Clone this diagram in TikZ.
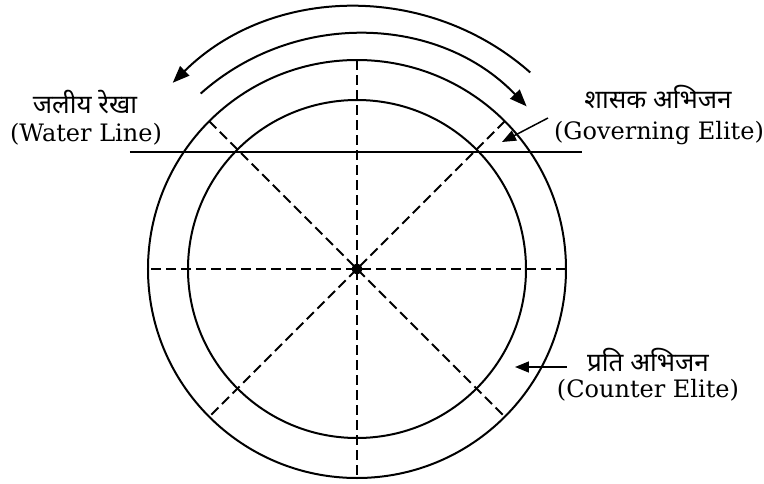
\documentclass[tikz,border=0pt]{standalone}
\usepackage{fontspec}
\setmainfont{DejaVu Serif}
\newfontfamily\hindi[Script=Devanagari]{Noto Sans}
\usetikzlibrary{arrows.meta, positioning}

\begin{document}
\begin{tikzpicture}[x=1pt, y=1pt, >={Triangle[length=17pt,width=13pt]},
        ring/.style={line width=2pt},
        spoke/.style={line width=1.8pt, dash pattern=on 10pt off 5pt},
        pointer/.style={line width=1.5pt, -{Triangle[length=14pt,width=11pt]}},
        hi/.style={font=\hindi\fontsize{26}{30}\selectfont, inner sep=0pt},
        en/.style={font=\fontsize{24}{28}\selectfont, inner sep=0pt}]
                \useasboundingbox (-357,-214) rectangle (407,269);
                \coordinate (c) at (0,0);
                \draw[ring] (c) circle (209);
                \draw[ring] (c) circle (169);
                \foreach \a in {0,45,90,135}
                    \draw[spoke] (\a:209) -- (\a+180:209);
                \fill (c) circle (5.5);

                % rotation arrows
                \draw[ring, ->] (48.6:262) arc (48.6:134.7:262);
                \draw[ring, ->] (131.7:235) arc (131.7:43.8:235);

                % water line
                \coordinate (wl1) at (-227,117);
                \coordinate (wl2) at (225,117);
                \draw[line width=1.7pt] (wl1) -- (wl2);

                \node[hi] (waterhi) at (-272,167) {जलीय रेखा};
                \node[en] (wateren) at (-271,135) {(Water Line)};

                \node[hi] (govhi) at (301,172) {शासक अभिजन};
                \node[en] (goven) at (302,136) {(Governing Elite)};
                \coordinate (govtail) at (191,151);
                \coordinate (govtip) at (145,127);
                \draw[pointer] (govtail) -- (govtip);

                \node[hi] (cnthi) at (291,-91) {प्रति अभिजन};
                \node[en] (cnten) at (291,-121) {(Counter Elite)};
                \coordinate (cnttail) at (210,-98);
                \coordinate (cnttip) at (158,-98);
                \draw[pointer] (cnttail) -- (cnttip);
            \end{tikzpicture}
\end{document}
